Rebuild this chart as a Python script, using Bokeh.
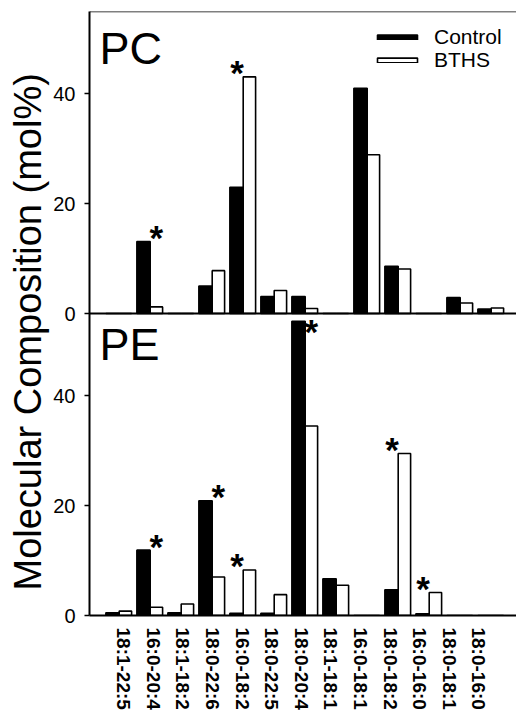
import math
from bokeh.plotting import figure
from bokeh.models import (ColumnDataSource, Range1d, LinearAxis, FixedTicker, Span,
                          Label, Legend, LegendItem)
from bokeh.transform import dodge
from bokeh.core.properties import value
from bokeh.embed import file_html
from bokeh.resources import INLINE

# ---------------- data ----------------
species = ["18:1-22:5", "16:0-20:4", "18:1-18:2", "18:0-22:6", "16:0-18:2",
           "18:0-22:5", "18:0-20:4", "18:1-18:1", "16:0-18:1", "18:0-18:2",
           "16:0-16:0", "18:0-18:1", "18:0-16:0"]
pc_control = [0, 13.1, 0, 5.0, 23.0, 3.1, 3.1, 0, 41.0, 8.6, 0, 2.9, 0.8]
pc_bths = [0, 1.2, 0, 7.8, 43.1, 4.2, 0.9, 0, 28.9, 8.1, 0, 1.9, 1.0]
pe_control = [0.5, 11.9, 0.5, 20.9, 0.4, 0.4, 53.6, 6.7, 0, 4.7, 0.3, 0, 0]
pe_bths = [0.8, 1.5, 2.1, 7.0, 8.3, 3.8, 34.5, 5.5, 0, 29.5, 4.2, 0, 0]
pc_signif = ["16:0-20:4", "16:0-18:2"]
pe_signif = ["16:0-20:4", "18:0-22:6", "16:0-18:2", "18:0-20:4", "18:0-18:2", "16:0-16:0"]
y_ticks = [0, 20, 40]
panel_max = 55

FONT = "Liberation Sans"

xpos = list(range(1, len(species) + 1))
src = ColumnDataSource(dict(x=xpos, pc_c=pc_control, pc_b=pc_bths,
                            pe_c=pe_control, pe_b=pe_bths))

p = figure(frame_width=427, frame_height=604,
           x_range=Range1d(0.042, 13.816), y_range=Range1d(0, 2 * panel_max),
           output_backend="svg", toolbar_location=None,
           x_axis_type=None, y_axis_type=None,
           title="Molecular Composition (mol%)", title_location="left",
           min_border_left=89, min_border_right=0, min_border_top=11, min_border_bottom=100)
p.extra_y_ranges = {"pc": Range1d(-panel_max, panel_max)}
p.extra_x_ranges = {"lab": Range1d(-0.159, 14.274)}
p.outline_line_color = None
p.background_fill_color = "white"
p.border_fill_color = "white"

p.title.align = "left"
p.title.offset = 25
p.title.text_font = FONT
p.title.text_font_size = "38px"
p.title.text_font_style = "normal"
p.title.text_color = "black"
p.title.standoff = 4

# bars
bar_kw = dict(line_color="black", line_width=1.6)
r_pe_c = p.vbar(x=dodge("x", -0.215), top="pe_c", bottom=0, width=0.43, source=src,
                fill_color="black", **bar_kw)
r_pe_b = p.vbar(x=dodge("x", 0.2), top="pe_b", bottom=0, width=0.40, source=src,
                fill_color="white", **bar_kw)
r_pc_c = p.vbar(x=dodge("x", -0.215), top="pc_c", bottom=0, width=0.43, source=src,
                fill_color="black", y_range_name="pc", **bar_kw)
r_pc_b = p.vbar(x=dodge("x", 0.2), top="pc_b", bottom=0, width=0.40, source=src,
                fill_color="white", y_range_name="pc", **bar_kw)

# frame lines
p.add_layout(Span(location=2 * panel_max, dimension="width", line_color="black", line_width=1.5))
p.add_layout(Span(location=panel_max, dimension="width", line_color="black", line_width=2))

# significance stars
def stars(sig, ctrl, bths):
    xs, ys = [], []
    for name in sig:
        i = species.index(name)
        c, b = ctrl[i], bths[i]
        xs.append(i + 1 + (0.2 if c >= b else -0.2))
        ys.append(min(max(c, b) + 1.3, panel_max - 2.7))
    return xs, ys

star_kw = dict(text_font=value(FONT), text_font_style="bold", text_font_size="35px",
               text_align="center", text_baseline="middle", y_offset=3, text_color="black")
sx, sy = stars(pe_signif, pe_control, pe_bths)
p.text(x=sx, y=sy, text=["*"] * len(sx), **star_kw)
sx, sy = stars(pc_signif, pc_control, pc_bths)
p.text(x=sx, y=sy, text=["*"] * len(sx), y_range_name="pc", **star_kw)

# y axis (both panels share one axis line)
yt = list(y_ticks) + [panel_max + t for t in y_ticks]
yax = LinearAxis(ticker=FixedTicker(ticks=yt),
                 major_label_overrides={panel_max + t: str(t) for t in y_ticks} | {t: str(t) for t in y_ticks})
yax.axis_line_width = 2
yax.major_tick_out = 5
yax.major_tick_in = 0
yax.major_tick_line_width = 1.5
yax.minor_tick_line_color = None
yax.major_label_text_font = FONT
yax.major_label_text_font_size = "20px"
yax.major_label_text_color = "black"
yax.major_label_standoff = 9
p.add_layout(yax, "left")

# x axis with species labels
xax = LinearAxis(x_range_name="lab", ticker=FixedTicker(ticks=xpos),
                 major_label_overrides={i: s for i, s in zip(xpos, species)})
xax.major_label_orientation = "vertical"
xax.axis_line_width = 2
xax.major_tick_line_color = None
xax.minor_tick_line_color = None
xax.major_tick_out = 0
xax.major_label_text_font = FONT
xax.major_label_text_font_style = "bold"
xax.major_label_text_font_size = "19px"
xax.major_label_text_color = "black"
xax.major_label_standoff = 12
p.add_layout(xax, "below")

# panel titles
p.add_layout(Label(x=10, y=567, x_units="screen", y_units="screen", text="PC",
                   text_font=FONT, text_font_size="45px", text_baseline="alphabetic",
                   text_color="black"))
p.add_layout(Label(x=10, y=271, x_units="screen", y_units="screen", text="PE",
                   text_font=FONT, text_font_size="45px", text_baseline="alphabetic",
                   text_color="black"))

# legend (two single-entry legends)
leg_kw = dict(padding=0, margin=0, border_line_color=None, background_fill_alpha=0,
              glyph_width=50, glyph_height=6, label_standoff=12, label_height=20,
              label_text_font=FONT, label_text_font_size="21px", spacing=0,
              label_text_color="black")
p.add_layout(Legend(items=[LegendItem(label="Control", renderers=[r_pc_c])],
                    location=(283, 566), **leg_kw))
p.add_layout(Legend(items=[LegendItem(label="BTHS", renderers=[r_pc_b])],
                    location=(283, 543), **leg_kw))

open("out.html", "w").write(file_html(p, INLINE))
